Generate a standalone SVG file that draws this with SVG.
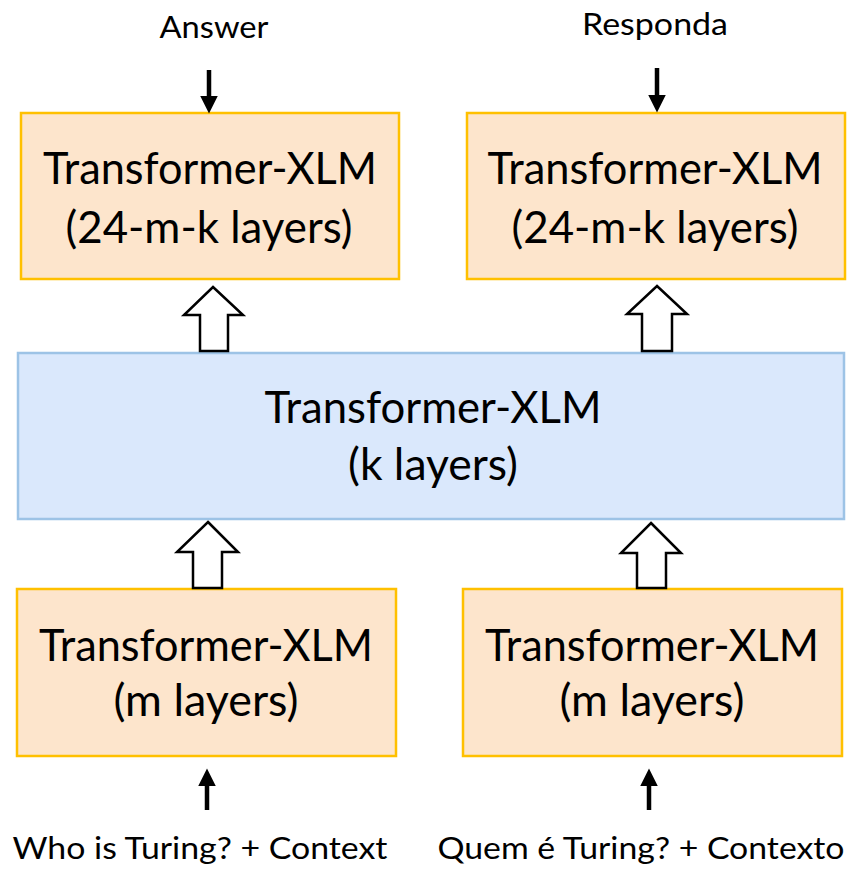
<svg xmlns="http://www.w3.org/2000/svg" width="853" height="869" viewBox="0 0 853 869">
<style>
.box{fill:#FDE5CC;stroke:#FFC000;stroke-width:2.5}
.mid{fill:#DAE8FC;stroke:#9DC3E6;stroke-width:2.5}
.t{font-family:Lato,"Open Sans","Liberation Sans",sans-serif;font-size:44px;fill:#000;text-anchor:middle}
.l{font-family:Lato,"Open Sans","Liberation Sans",sans-serif;font-size:30px;fill:#000;text-anchor:middle}
.hollow{fill:#fff;stroke:#000;stroke-width:2.5;stroke-linejoin:miter}
.solid{stroke:#000;stroke-width:4.5;fill:none}
</style>
<defs>
<marker id="ah" markerWidth="4.4" markerHeight="4" refX="0.1" refY="2" orient="auto" markerUnits="strokeWidth">
<path d="M0,0 L4,2 L0,4 z" fill="#000"/>
</marker>
</defs>
<rect width="853" height="869" fill="#fff"/>
<g id="top-left">
<rect class="box" x="21" y="113" width="378" height="166"/>
<text class="t" x="210" y="184" textLength="334" lengthAdjust="spacingAndGlyphs">Transformer-XLM</text>
<text class="t" x="209" y="243" textLength="287" lengthAdjust="spacingAndGlyphs">(24-m-k layers)</text>
</g>
<g id="top-right">
<rect class="box" x="467" y="113" width="378" height="166"/>
<text class="t" x="655" y="184" textLength="335" lengthAdjust="spacingAndGlyphs">Transformer-XLM</text>
<text class="t" x="655" y="243" textLength="287" lengthAdjust="spacingAndGlyphs">(24-m-k layers)</text>
</g>
<g id="middle">
<rect class="mid" x="18" y="353" width="826" height="166"/>
<text class="t" x="433" y="423" textLength="337" lengthAdjust="spacingAndGlyphs">Transformer-XLM</text>
<text class="t" x="433" y="480" textLength="170" lengthAdjust="spacingAndGlyphs">(k layers)</text>
</g>
<g id="bottom-left">
<rect class="box" x="17" y="589" width="379" height="167"/>
<text class="t" x="206" y="661" textLength="334" lengthAdjust="spacingAndGlyphs">Transformer-XLM</text>
<text class="t" x="206" y="716" textLength="185" lengthAdjust="spacingAndGlyphs">(m layers)</text>
</g>
<g id="bottom-right">
<rect class="box" x="463" y="589" width="379" height="167"/>
<text class="t" x="652" y="661" textLength="334" lengthAdjust="spacingAndGlyphs">Transformer-XLM</text>
<text class="t" x="652" y="716" textLength="185" lengthAdjust="spacingAndGlyphs">(m layers)</text>
</g>
<g id="label-answer"><text class="l" x="214" y="38" textLength="109" lengthAdjust="spacingAndGlyphs">Answer</text></g>
<g id="label-responda"><text class="l" x="655" y="35" textLength="146" lengthAdjust="spacingAndGlyphs">Responda</text></g>
<g id="label-who"><text class="l" x="200" y="859" textLength="375" lengthAdjust="spacingAndGlyphs">Who is Turing? + Context</text></g>
<g id="label-quem"><text class="l" x="641" y="859" textLength="407" lengthAdjust="spacingAndGlyphs">Quem é Turing? + Contexto</text></g>
<g id="connectors">
<line class="solid" x1="209" y1="70" x2="209" y2="96" marker-end="url(#ah)"/>
<line class="solid" x1="657" y1="68" x2="657" y2="95" marker-end="url(#ah)"/>
<line class="solid" x1="207" y1="810" x2="207" y2="786" marker-end="url(#ah)"/>
<line class="solid" x1="649" y1="810" x2="649" y2="786" marker-end="url(#ah)"/>
<path class="hollow" d="M213,287 L243,315 L228,315 L228,351 L200,351 L200,315 L184,315 Z"/>
<path class="hollow" d="M657,286 L687,314 L672,314 L672,351 L642,351 L642,314 L627,314 Z"/>
<path class="hollow" d="M208,522 L238,552 L222,552 L222,588 L193,588 L193,552 L177,552 Z"/>
<path class="hollow" d="M651,523 L681,553 L666,553 L666,588 L637,588 L637,553 L621,553 Z"/>
</g>
</svg>
